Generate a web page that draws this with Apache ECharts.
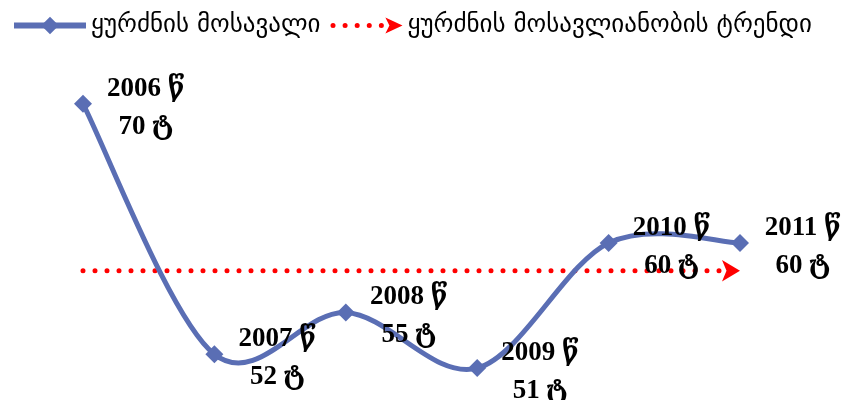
<!DOCTYPE html>
<html>
<head>
<meta charset="utf-8">
<script src="https://cdn.jsdelivr.net/npm/echarts@6/dist/echarts.min.js"></script>
<style>
  html, body { margin: 0; padding: 0; background: #fff; }
  #chart { width: 843px; height: 400px; }
</style>
</head>
<body>
<div id="chart"></div>
<script>
// წლები და მოსავალი (ტ)
const years = ['2006', '2007', '2008', '2009', '2010', '2011'];
const harvest = [70, 52, 55, 51, 60, 60];
const trend = [58, 58, 58, 58, 58, 58];
const seriesNames = ['ყურძნის მოსავალი', 'ყურძნის მოსავლიანობის ტრენდი'];

const blue = '#5a6eb4';
const red = '#ff0000';
const labelFont = "'Liberation Serif', 'DejaVu Serif', 'DejaVu Sans', serif";

// legend icon for the trend: dots + arrow head
const trendIcon = 'path://M1.5,8a2.5,2.5 0 1,0 5,0a2.5,2.5 0 1,0 -5,0Z' +
  'M13.5,8a2.5,2.5 0 1,0 5,0a2.5,2.5 0 1,0 -5,0Z' +
  'M25.5,8a2.5,2.5 0 1,0 5,0a2.5,2.5 0 1,0 -5,0Z' +
  'M37.5,8a2.5,2.5 0 1,0 5,0a2.5,2.5 0 1,0 -5,0Z' +
  'M49.5,8a2.5,2.5 0 1,0 5,0a2.5,2.5 0 1,0 -5,0Z' +
  'M56,0L73,8L56,16L60,8Z';

// excel-like smoothing (catmull-rom, ends duplicated)
function smoothPath(api) {
  const pts = harvest.map((v, i) => api.coord([i, v]));
  let d = 'M' + pts[0][0] + ',' + pts[0][1];
  for (let i = 0; i < pts.length - 1; i++) {
    const p0 = pts[Math.max(i - 1, 0)];
    const p1 = pts[i];
    const p2 = pts[i + 1];
    const p3 = pts[Math.min(i + 2, pts.length - 1)];
    const c1 = [p1[0] + (p2[0] - p0[0]) / 6, p1[1] + (p2[1] - p0[1]) / 6];
    const c2 = [p2[0] - (p3[0] - p1[0]) / 6, p2[1] - (p3[1] - p1[1]) / 6];
    d += 'C' + c1.join(',') + ' ' + c2.join(',') + ' ' + p2.join(',');
  }
  return d;
}

const chart = echarts.init(document.getElementById('chart'));

chart.setOption({
  animation: false,
  legend: {
    left: 6,
    top: 8,
    itemWidth: 72,
    itemHeight: 22,
    itemGap: 10,
    symbolKeepAspect: true,
    textStyle: {
      fontSize: 25,
      color: '#000',
      fontFamily: "'DejaVu Sans', sans-serif",
    },
    data: [
      { name: seriesNames[0], lineStyle: { width: 6, opacity: 1, color: blue } },
      { name: seriesNames[1], icon: trendIcon, itemStyle: { color: red } },
    ],
  },
  grid: {
    left: 83,
    right: 103,
    top: 76,
    bottom: 18,
  },
  xAxis: {
    type: 'category',
    data: years,
    boundaryGap: false,
    show: false,
  },
  yAxis: {
    type: 'value',
    min: 50,
    max: 72,
    show: false,
  },
  series: [
    {
      name: seriesNames[1],
      type: 'line',
      data: trend.map((v, i) => (i === trend.length - 1 ? v : { value: v, symbol: 'none' })),
      symbol: 'arrow',
      symbolRotate: -90,
      symbolSize: [16, 18],
      itemStyle: { color: red },
      lineStyle: {
        color: red,
        width: 5,
        type: [0, 12],
        cap: 'round',
      },
      z: 1,
    },
    {
      name: 'curve',
      type: 'custom',
      data: harvest.map((v, i) => [i, v]),
      clip: false,
      renderItem: (params, api) => {
        if (params.dataIndex !== 0) return null;
        return {
          type: 'path',
          shape: { pathData: smoothPath(api) },
          style: { stroke: blue, lineWidth: 5, fill: 'none' },
        };
      },
      z: 2,
    },
    {
      name: seriesNames[0],
      type: 'line',
      data: harvest,
      symbol: 'diamond',
      symbolSize: 18,
      itemStyle: { color: blue },
      lineStyle: { color: blue, width: 5, opacity: 0 },
      label: {
        show: true,
        position: 'right',
        distance: 54,
        offset: [0, 4],
        align: 'center',
        verticalAlign: 'middle',
        fontFamily: labelFont,
        fontWeight: 'bold',
        fontSize: 27,
        lineHeight: 38,
        color: '#000',
        formatter: (p) => years[p.dataIndex] + ' წ\n' + p.value + ' ტ',
      },
      z: 3,
    },
  ],
});
</script>
</body>
</html>
